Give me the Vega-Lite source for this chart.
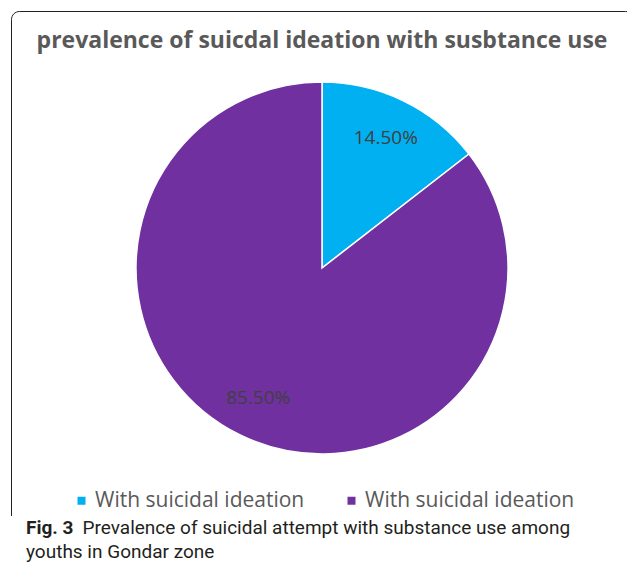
{
  "$schema": "https://vega.github.io/schema/vega-lite/v6.json",
  "padding": {"left": 10, "top": 10, "right": 0, "bottom": 5},
  "background": "white",
  "title": {
    "text": "Fig. 3",
    "subtitle": ["\u200b\u00a0\u00a0\u00a0\u00a0\u00a0\u00a0\u00a0\u00a0\u00a0\u00a0\u00a0\u00a0Prevalence of suicidal attempt with substance use among", "youths in Gondar zone"],
    "orient": "bottom",
    "anchor": "start",
    "frame": "group",
    "dx": 15,
    "offset": -7,
    "baseline": "top",
    "font": "Roboto",
    "fontSize": 19,
    "lineHeight": 19,
    "fontWeight": "bold",
    "color": "#231f20",
    "subtitleFont": "Roboto",
    "subtitleFontSize": 19,
    "subtitleFontWeight": "normal",
    "subtitleColor": "#231f20",
    "subtitleLineHeight": 24,
    "subtitlePadding": -19
  },
  "vconcat": [
    {
      "width": 622,
      "height": 514,
      "view": {"stroke": "#222222", "strokeWidth": 1, "cornerRadius": 8, "strokeDash": [1117, 632, 511, 0]},
      "title": {
        "text": "prevalence of suicdal ideation with susbtance use",
        "orient": "top",
        "frame": "group",
        "anchor": "middle",
        "baseline": "alphabetic",
        "offset": -60,
        "font": "Open Sans",
        "fontSize": 23,
        "fontWeight": "bold",
        "color": "#595959"
      },
      "data": {
        "values": [
          {"group": "With suicidal ideation", "label": "14.50%", "value": 14.5},
          {"group": "Without suicidal ideation", "label": "85.50%", "value": 85.5}
        ]
      },
      "encoding": {
        "theta": {"field": "value", "type": "quantitative", "stack": true}
      },
      "layer": [
        {
          "mark": {"type": "arc", "outerRadius": 186, "stroke": "#ffffff", "strokeWidth": 1.5},
          "encoding": {
            "color": {
              "field": "group",
              "type": "nominal",
              "scale": {"domain": ["With suicidal ideation", "Without suicidal ideation"], "range": ["#00B0F0", "#7030A0"]},
              "legend": {
                "orient": "none",
                "legendX": 60,
                "legendY": 479,
                "direction": "horizontal",
                "title": null,
                "symbolType": "square",
                "symbolSize": 64,
                "symbolStrokeWidth": 0,
                "labelFont": "Open Sans",
                "labelFontSize": 21,
                "labelColor": "#595959",
                "labelOffset": 3,
                "columnPadding": 36,
                "labelExpr": "'With suicidal ideation'",
                "labelLimit": 400
              }
            }
          }
        },
        {
          "mark": {"type": "text", "radius": 145, "font": "Open Sans", "fontSize": 19, "fill": "#404040"},
          "encoding": {
            "detail": {"field": "group", "type": "nominal"},
            "text": {"field": "label", "type": "nominal"}
          }
        }
      ]
    }
  ]
}
